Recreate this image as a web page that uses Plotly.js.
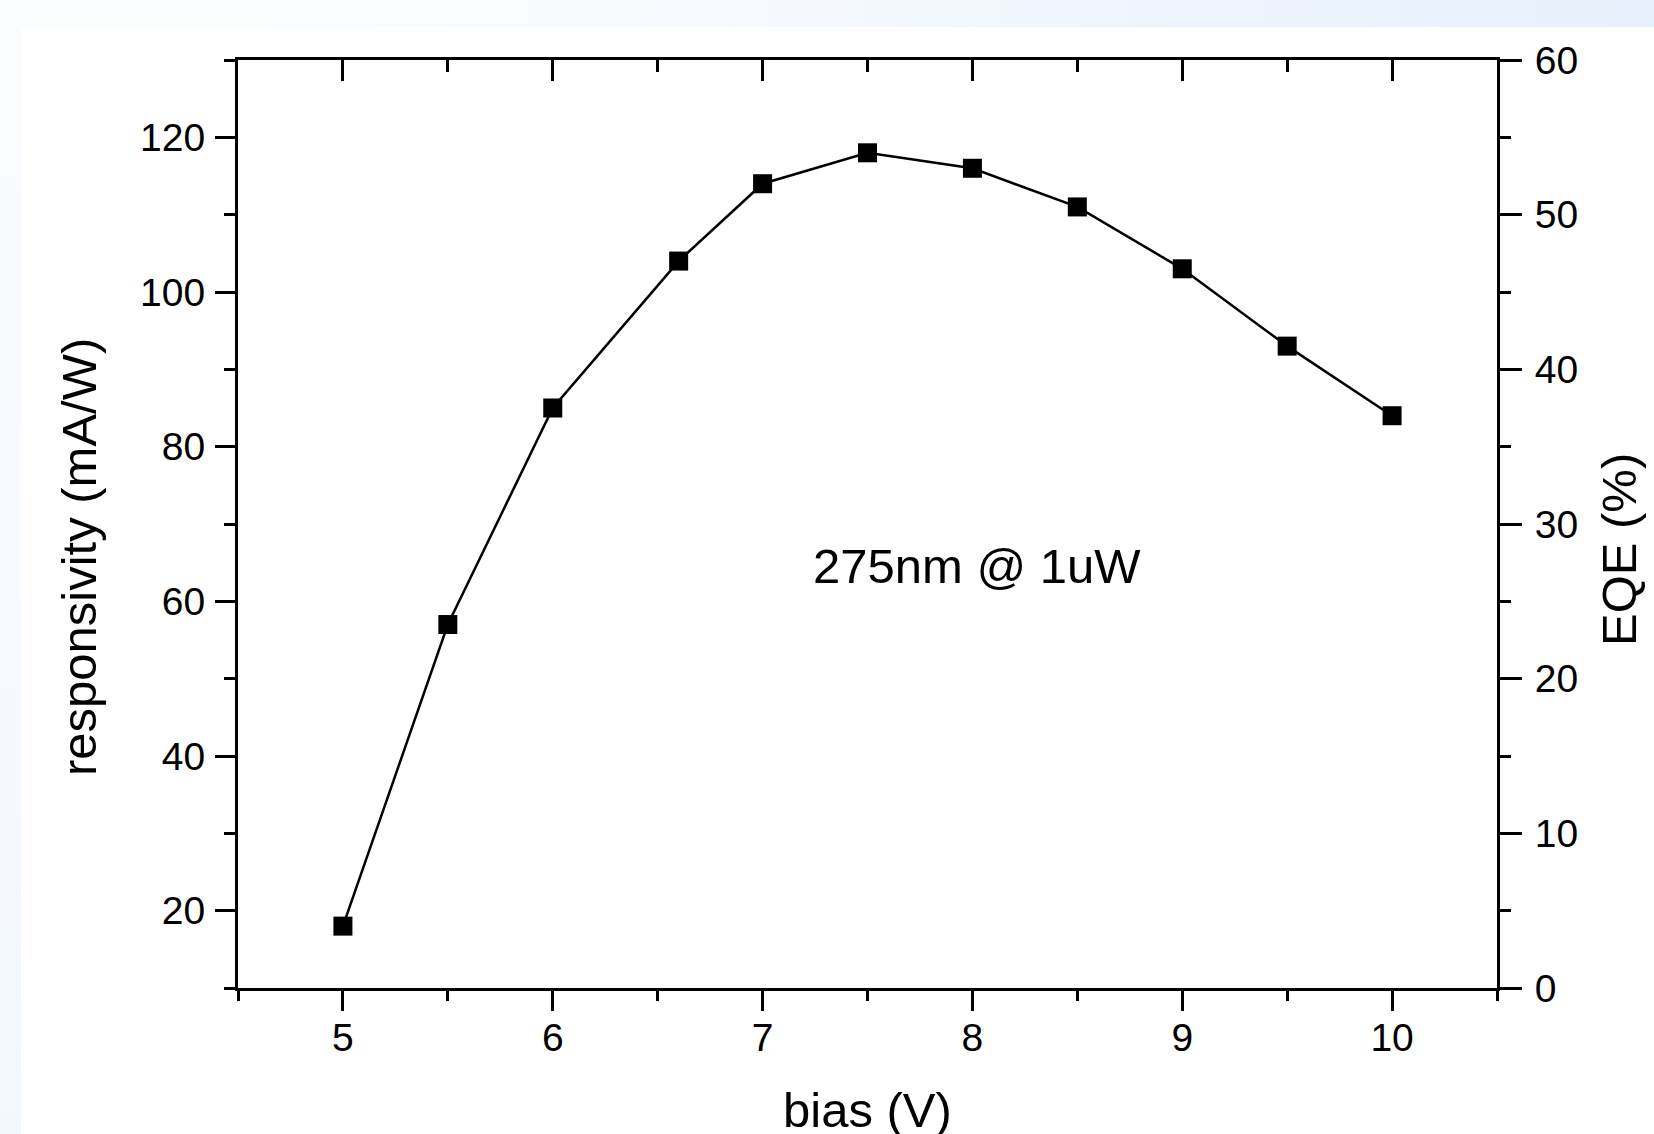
<!DOCTYPE html>
<html>
<head>
<meta charset="utf-8">
<script src="https://cdn.plot.ly/plotly-3.0.1.min.js"></script>
<style>
  html, body { margin: 0; padding: 0; width: 1654px; height: 1134px; overflow: hidden; background: #ffffff; }
  #topband { position: absolute; left: 0; top: 0; width: 1654px; height: 27px;
    background: linear-gradient(to right, #fcfdfe 0%, #f9fbfe 35%, #eef5fd 70%, #e7f0fc 100%); }
  #leftband { position: absolute; left: 0; top: 27px; width: 21px; height: 1107px;
    background: linear-gradient(to bottom, #fbfcfe 0%, #f6f9fe 50%, #f3f8fe 100%); }
  #chart { position: absolute; left: 0; top: 0; width: 1654px; height: 1134px; }
</style>
</head>
<body>
<div id="topband"></div>
<div id="leftband"></div>
<div id="chart"></div>
<script>
// Data
const bias = [5, 5.5, 6, 6.6, 7, 7.5, 8, 8.5, 9, 9.5, 10];
const responsivity = [18, 57, 85, 104, 114, 118, 116, 111, 103, 93, 84];
const xTickVals = [5, 6, 7, 8, 9, 10];
const yLeftTickVals = [20, 40, 60, 80, 100, 120];
const yRightTickVals = [0, 10, 20, 30, 40, 50, 60];
const labelText = "275nm @ 1uW";
const xTitle = "bias (V)";
const yLeftTitle = "responsivity (mA/W)";
const yRightTitle = "EQE (%)";

const FONT = "'Liberation Sans', Arial, sans-serif";
const tickFont = {family: FONT, size: 39, color: '#000'};
const titleFont = {family: FONT, size: 49, color: '#000'};

const traces = [
  {
    x: bias, y: responsivity, type: 'scatter', mode: 'lines+markers',
    line: {color: '#000', width: 2.5},
    marker: {symbol: 'square', size: 19, color: '#000', line: {width: 0}},
    xaxis: 'x', yaxis: 'y', showlegend: false, hoverinfo: 'skip'
  },
  // invisible trace to activate the top/right axes
  {
    x: [bias[0]], y: [0], type: 'scatter', mode: 'markers',
    marker: {opacity: 0}, xaxis: 'x2', yaxis: 'y2', showlegend: false, hoverinfo: 'skip'
  }
];

const common = {
  showline: true, linecolor: '#000', linewidth: 3,
  showgrid: false, zeroline: false, tickcolor: '#000', tickwidth: 3,
  tickfont: tickFont, fixedrange: true
};

const layout = {
  width: 1654, height: 1134,
  margin: {l: 238, r: 157, t: 60, b: 146, pad: 0},
  paper_bgcolor: 'rgba(0,0,0,0)',
  plot_bgcolor: '#ffffff',
  showlegend: false,
  xaxis: Object.assign({}, common, {
    range: [4.5, 10.5], tickmode: 'array', tickvals: xTickVals, ticktext: xTickVals.map(String),
    ticks: 'outside', ticklen: 20, ticklabelstandoff: -7,
    minor: {dtick: 0.5, tick0: 4.5, ticks: 'outside', ticklen: 10, tickwidth: 3, tickcolor: '#000', showgrid: false}
  }),
  xaxis2: Object.assign({}, common, {
    range: [4.5, 10.5], overlaying: 'x', side: 'top', matches: 'x',
    tickmode: 'array', tickvals: xTickVals, showticklabels: false,
    ticks: 'inside', ticklen: 21,
    minor: {dtick: 0.5, tick0: 4.5, ticks: 'inside', ticklen: 12, tickwidth: 3, tickcolor: '#000', showgrid: false}
  }),
  yaxis: Object.assign({}, common, {
    range: [10, 130], tickmode: 'array', tickvals: yLeftTickVals, ticktext: yLeftTickVals.map(String),
    ticks: 'outside', ticklen: 20, ticklabelstandoff: 2,
    minor: {dtick: 10, tick0: 10, ticks: 'outside', ticklen: 11, tickwidth: 3, tickcolor: '#000', showgrid: false}
  }),
  yaxis2: Object.assign({}, common, {
    range: [0, 60], overlaying: 'y', side: 'right', anchor: 'x',
    tickmode: 'array', tickvals: yRightTickVals, ticktext: yRightTickVals.map(String),
    ticks: 'outside', ticklen: 22, ticklabelstandoff: 5,
    minor: {dtick: 5, tick0: 0, ticks: 'outside', ticklen: 11, tickwidth: 3, tickcolor: '#000', showgrid: false}
  }),
  annotations: [
    {text: labelText, xref: 'paper', yref: 'paper', x: 0.587, y: 0.455,
     xanchor: 'center', yanchor: 'middle', showarrow: false, font: titleFont},
    {text: xTitle, xref: 'paper', yref: 'paper', x: 0.5, y: -0.132,
     xanchor: 'center', yanchor: 'middle', showarrow: false, font: titleFont},
    {text: yLeftTitle, xref: 'paper', yref: 'paper', x: -0.1263, y: 0.4644,
     xanchor: 'center', yanchor: 'middle', textangle: -90, showarrow: false, font: titleFont},
    {text: yRightTitle, xref: 'paper', yref: 'paper', x: 1.0969, y: 0.473,
     xanchor: 'center', yanchor: 'middle', textangle: -90, showarrow: false, font: titleFont}
  ]
};

Plotly.newPlot('chart', traces, layout, {staticPlot: true, displayModeBar: false});
</script>
</body>
</html>
